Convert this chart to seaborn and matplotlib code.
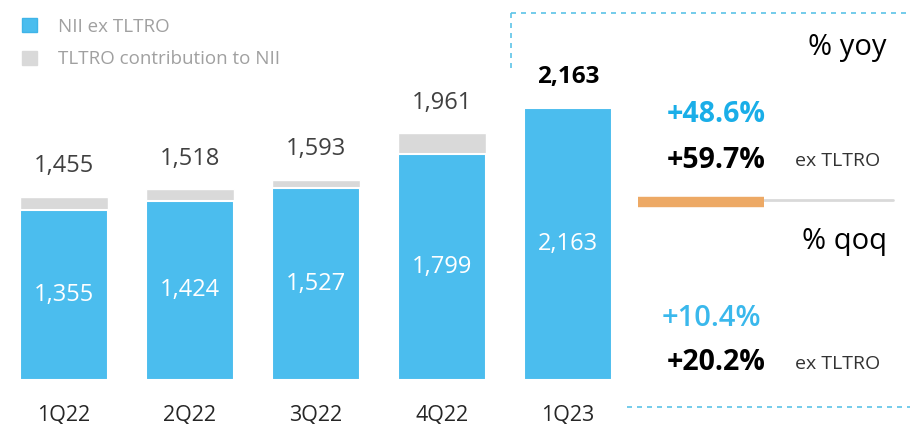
import numpy as np
import pandas as pd
import matplotlib
matplotlib.use('Agg')
import matplotlib.pyplot as plt
import seaborn as sns
from matplotlib.patches import Patch
from matplotlib.lines import Line2D

# Data
quarters = ['1Q22', '2Q22', '3Q22', '4Q22', '1Q23']
nii_ex_tltro = [1355, 1424, 1527, 1799, 2163]
nii_total = [1455, 1518, 1593, 1961, 2163]
yoy_labels = ['+48.6%', '+59.7%']
qoq_labels = ['+10.4%', '+20.2%']

BLUE = '#4bbdee'
GREY = '#d9d9d9'
CYAN = '#1aaee8'

sns.set_theme(style='white')
plt.rcParams['font.family'] = ['Open Sans', 'DejaVu Sans']

W, H = 910, 424
fig = plt.figure(figsize=(W / 100, H / 100), dpi=100)
ax = fig.add_axes([0, 0, 1, 1])

df = pd.DataFrame({'quarter': quarters, 'nii': nii_ex_tltro, 'total': nii_total})

# grey (total) bars behind, blue (ex TLTRO) bars on top
sns.barplot(data=df, x='quarter', y='total', color=GREY, width=0.7,
            saturation=1, ax=ax)
sns.barplot(data=df, x='quarter', y='nii', color=BLUE, width=0.7,
            saturation=1, edgecolor='white', linewidth=1.5, ax=ax)

# map pixel layout: bar centres at 64 px, spacing 126 px, baseline at 380 px
px_per_cat = 126.0
px_per_unit = 272.0 / 2163
ax.set_xlim(-64 / px_per_cat, (W - 64) / px_per_cat)
ax.set_ylim(-(H - 380) / px_per_unit, 380 / px_per_unit)
ax.axis('off')

for i, (q, n, t) in enumerate(zip(quarters, nii_ex_tltro, nii_total)):
    ax.text(i, n / 2, f'{n:,}', ha='center', va='center', color='white',
            fontsize=17)
    last = i == len(quarters) - 1
    ax.annotate(f'{t:,}', (i, t), xytext=(0, 22), textcoords='offset points',
                ha='center', va='center', fontsize=17.5 if last else 17,
                color='black' if last else '#404040',
                fontweight='bold' if last else 'normal')
    ax.annotate(q, (i, 0), xytext=(0, -25), textcoords='offset points',
                ha='center', va='center', fontsize=15.5, color='#262626')


def fx(px):
    return px / W


def fy(py):
    return 1 - py / H


# legend
handles = [Patch(facecolor=BLUE, edgecolor='#3fb4e8'),
           Patch(facecolor=GREY, edgecolor=GREY)]
leg = fig.legend(handles, ['NII ex TLTRO', 'TLTRO contribution to NII'],
                 loc='upper left', bbox_to_anchor=(fx(14), fy(10)),
                 frameon=False, fontsize=13.5, labelcolor='#a0a0a0',
                 handlelength=0.85, handleheight=0.85, handletextpad=1.1,
                 labelspacing=0.8, borderaxespad=0)

# dashed frame around growth panel
dash = dict(color='#5cc3e8', lw=1.2, ls=(0, (3, 3)), transform=fig.transFigure)
fig.add_artist(Line2D([fx(511), fx(910)], [fy(13), fy(13)], **dash))
fig.add_artist(Line2D([fx(511), fx(511)], [fy(13), fy(70)], **dash))
fig.add_artist(Line2D([fx(627), fx(910)], [fy(407), fy(407)], **dash))

# separator: orange bar plus thin grey line
fig.add_artist(Line2D([fx(764), fx(893)], [fy(200), fy(200)], color=GREY,
                      lw=2, transform=fig.transFigure))
fig.add_artist(Line2D([fx(638), fx(764)], [fy(202), fy(202)], color='#eda965',
                      lw=7.5, solid_capstyle='butt', transform=fig.transFigure))

fig.text(fx(887), fy(48), '% yoy', ha='right', va='center', fontsize=21,
         color='black')
fig.text(fx(887), fy(242), '% qoq', ha='right', va='center', fontsize=21,
         color='black')

fig.text(fx(766), fy(115), yoy_labels[0], ha='right', va='center',
         fontsize=20.5, color=CYAN, fontweight='bold')
fig.text(fx(766), fy(160), yoy_labels[1], ha='right', va='center',
         fontsize=20.5, color='black', fontweight='bold')
fig.text(fx(761), fy(318), qoq_labels[0], ha='right', va='center',
         fontsize=21, color='#3ab8ec', fontweight='semibold')
fig.text(fx(766), fy(363), qoq_labels[1], ha='right', va='center',
         fontsize=20.5, color='black', fontweight='bold')
for y in (161, 364):
    fig.text(fx(795), fy(y), 'ex TLTRO', ha='left', va='center', fontsize=14,
             color='#333333')

fig.savefig('out.png', dpi=100)
